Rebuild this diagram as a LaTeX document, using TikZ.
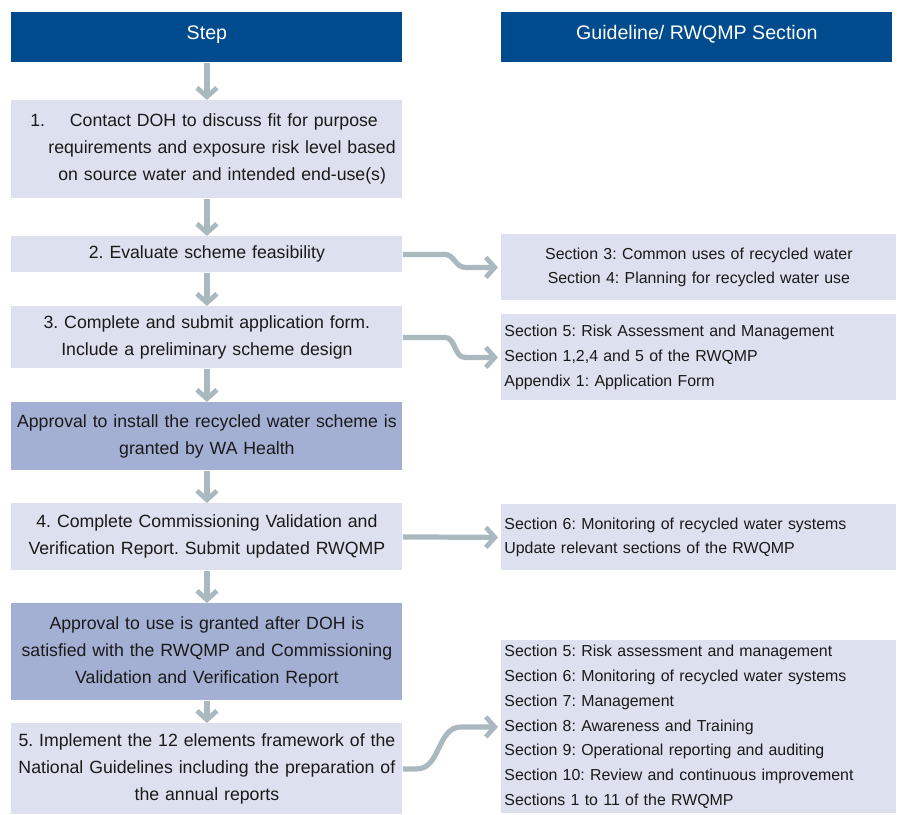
\documentclass[tikz,border=0pt]{standalone}
\usepackage{fontspec}
\setmainfont{Liberation Sans}
\usetikzlibrary{arrows.meta,calc}

\definecolor{headblue}{RGB}{0,75,141}
\definecolor{steplight}{RGB}{221,224,238}
\definecolor{approvefill}{RGB}{164,176,211}
\definecolor{arrowgray}{RGB}{170,184,192}
\definecolor{textdark}{RGB}{26,26,26}

\tikzset{
    headbox/.style={fill=headblue, text=white, anchor=north west, inner sep=0,
        minimum width=195.5pt, minimum height=25pt, text depth=4.8pt,
        font=\fontsize{9.8}{12}\selectfont},
    stepbox/.style={fill=steplight, text=textdark, anchor=north west, inner sep=0,
        minimum width=195.5pt, text width=194pt, align=center,
        font=\fontsize{8.85}{13.5}\selectfont},
    approvalbox/.style={stepbox, fill=approvefill},
    guidebox/.style={fill=steplight, text=textdark, anchor=north west, inner ysep=0,
        inner xsep=1.5pt, minimum width=197.5pt, text width=194.5pt, align=left,
        font=\fontsize{7.95}{12.4}\selectfont},
    flowarrow/.style={draw=arrowgray, line width=2.6pt,
        -{Straight Barb[length=4.5pt, width=10pt, line width=2.4pt]}}
}

\begin{document}
\frenchspacing
\begin{tikzpicture}[x=0.5pt, y=-0.5pt]

    \useasboundingbox (0,0) rectangle (897,814);

    % Headers
    \node[headbox] (hstep) at (11, 12) {Step};
    \node[headbox] (hguide) at (501, 12) {Guideline/ RWQMP Section};

    % Steps
    \node[stepbox, align=left, minimum height=49pt] (s1) at (11, 100)
        {\hspace*{8.75pt}1.\hspace{1.4em}Contact DOH to discuss fit for purpose\\
        \hspace*{17.75pt}requirements and exposure risk level based\\
        \hspace*{22.75pt}on source water and intended end-use(s)};
    \node[stepbox, minimum height=18pt] (s2) at (11, 236)
        {2. Evaluate scheme feasibility};
    \node[stepbox, minimum height=31pt] (s3) at (11, 306)
        {3. Complete and submit application form.\\
        Include a preliminary scheme design};
    \node[approvalbox, minimum height=34pt] (a1) at (11, 402)
        {Approval to install the recycled water scheme is\\
        granted by WA Health};
    \node[stepbox, minimum height=33.5pt] (s4) at (11, 503)
        {4. Complete Commissioning Validation and\\
        Verification Report. Submit updated RWQMP};
    \node[approvalbox, minimum height=48.5pt] (a2) at (11, 603)
        {Approval to use is granted after DOH is\\
        satisfied with the RWQMP and Commissioning\\
        Validation and Verification Report};
    \node[stepbox, minimum height=45.5pt] (s5) at (11, 723)
        {5. Implement the 12 elements framework of the\\
        National Guidelines including the preparation of\\
        the annual reports};

    % Guidelines
    \node[guidebox, align=center, minimum height=33pt] (g1) at (501, 234)
        {Section 3: Common uses of recycled water\\
        Section 4: Planning for recycled water use};
    \node[guidebox, minimum height=43pt] (g2) at (501, 314)
        {Section 5: Risk Assessment and Management\\
        Section 1,2,4 and 5 of the RWQMP\\
        Appendix 1: Application Form};
    \node[guidebox, minimum height=33pt] (g3) at (501, 504)
        {Section 6: Monitoring of recycled water systems\\
        Update relevant sections of the RWQMP};
    \node[guidebox, minimum height=86.5pt] (g4) at (501, 640)
        {Section 5: Risk assessment and management\\
        Section 6: Monitoring of recycled water systems\\
        Section 7: Management\\
        Section 8: Awareness and Training\\
        Section 9: Operational reporting and auditing\\
        Section 10: Review and continuous improvement\\
        Sections 1 to 11 of the RWQMP};

    % Arrows down the steps
    \foreach \a/\b in {hstep/s1, s1/s2, s2/s3, s3/a1, a1/s4, s4/a2, a2/s5}
        \draw[flowarrow] (\a.south) -- (\b.north);

    % Arrows to the guidelines
    \draw[flowarrow] (s2.east) -- ++(42,0)
        to[out=0, in=180] ($(g1.west)+(-36,0)$) -- ($(g1.west)+(-3,0)$);
    \draw[flowarrow] (s3.east) -- ++(42,0)
        to[out=0, in=180] ($(g2.west)+(-36,0)$) -- ($(g2.west)+(-3,0)$);
    \draw[flowarrow] (s4.east) -- ($(g3.west)+(-3,0)$);
    \draw[flowarrow] (s5.east) -- ++(14,0)
        to[out=0, in=180] ($(g4.west)+(-40,0)$) -- ($(g4.west)+(-3,0)$);

\end{tikzpicture}
\end{document}
